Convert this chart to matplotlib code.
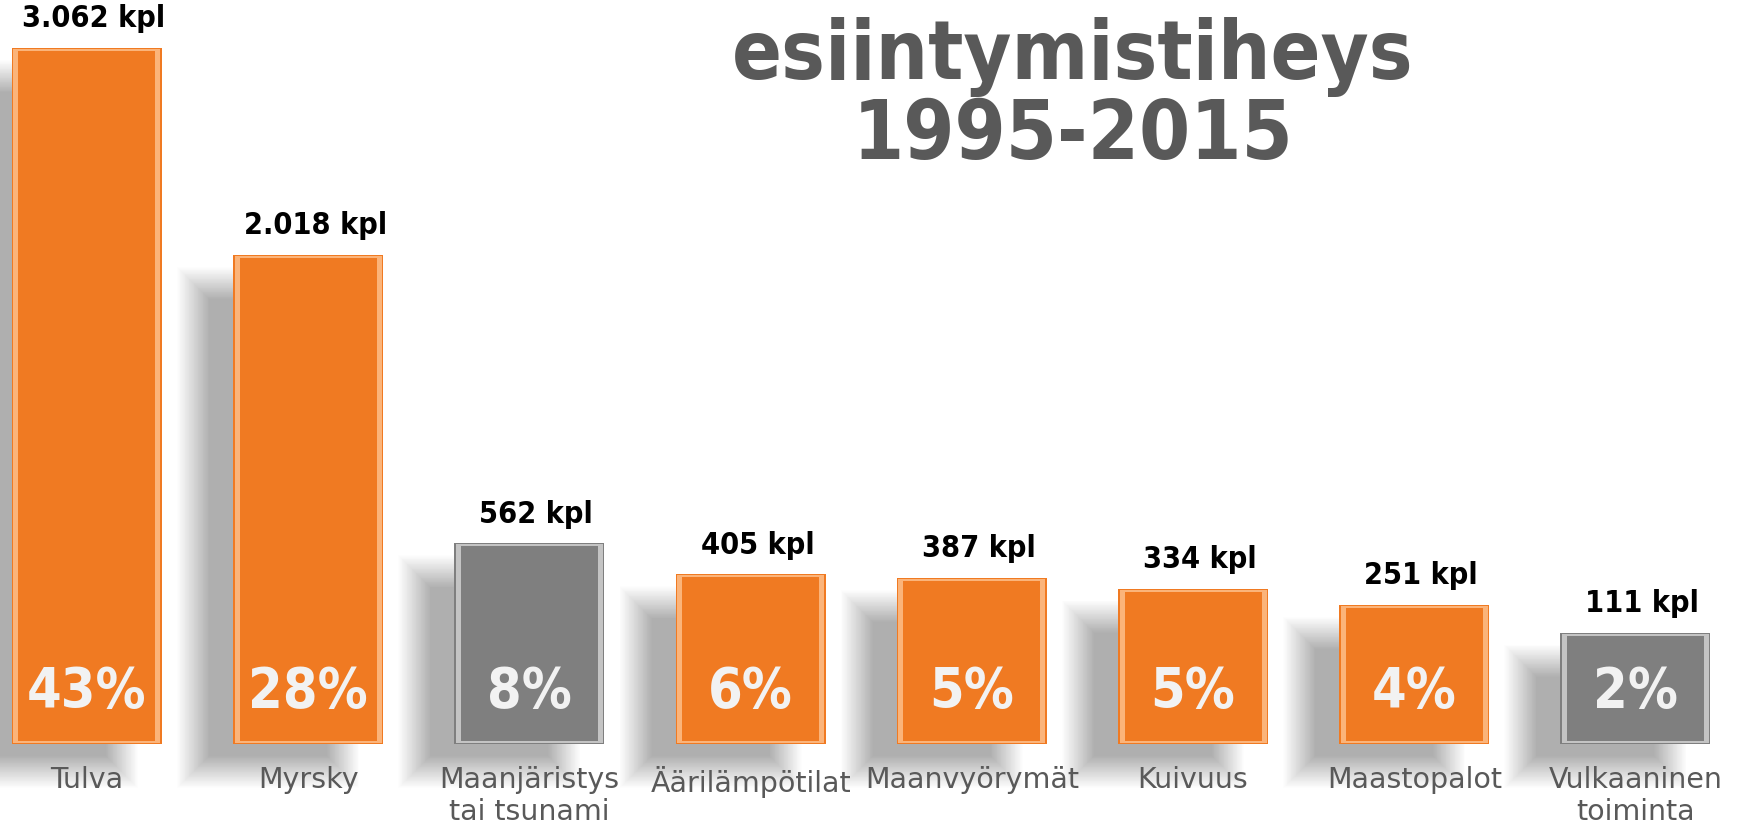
import numpy as np
import matplotlib
matplotlib.use("Agg")
import matplotlib.pyplot as plt
from matplotlib import font_manager

# data
categories = ["Tulva", "Myrsky", "Maanjäristys\ntai tsunami", "Äärilämpötilat",
              "Maanvyörymät", "Kuivuus", "Maastopalot", "Vulkaaninen\ntoiminta"]
counts = [3062, 2018, 562, 405, 387, 334, 251, 111]
count_labels = ["3.062 kpl", "2.018 kpl", "562 kpl", "405 kpl",
                "387 kpl", "334 kpl", "251 kpl", "111 kpl"]
percents = [43, 28, 8, 6, 5, 5, 4, 2]
is_geo = [False, False, True, False, False, False, False, True]

title_line1 = "esiintymistiheys"
title_line2 = "1995-2015"

# layout
W, H = 1739, 823
XLIM = (-0.393, 7.468)
YLIM = (-850, 3306)
BASE = -451  # bars start here
xpx = (XLIM[1] - XLIM[0]) / W
ypx = (YLIM[1] - YLIM[0]) / H
bar_w = 150 * xpx

orange, orange_light = "#F07A22", "#FBB47A"
grey, grey_light = "#7F7F7F", "#C4C4C4"
text_grey = "#595959"

cond = font_manager.FontProperties(family="DejaVu Sans", stretch="condensed", weight="bold")
have_cond = "Condensed" in font_manager.findfont(cond)

fig = plt.figure(figsize=(W / 100, H / 100), dpi=100)
ax = fig.add_axes([0, 0, 1, 1])
ax.set_xlim(*XLIM)
ax.set_ylim(*YLIM)
ax.axis("off")

x = np.arange(len(counts))
heights = np.array(counts) - BASE

# soft drop shadow: many faint boxes, shrinking, shifted left/down
n_layers = 40
blur = 16
alpha = 1 - 0.75 ** (1 / n_layers)
for k in range(n_layers):
    g = blur * (1 - 2 * k / (n_layers - 1))
    ax.bar(x - 40 * xpx, heights + 2 * g * ypx, bottom=BASE - 28 * ypx - g * ypx,
           width=bar_w + 2 * g * xpx, color="black", alpha=alpha, linewidth=0, zorder=1)

main_cols = [grey if g else orange for g in is_geo]
light_cols = [grey_light if g else orange_light for g in is_geo]

# bevelled bars
ax.bar(x, heights, bottom=BASE, width=bar_w, color=main_cols, linewidth=0, zorder=2)
ax.bar(x, heights - 2 * ypx, bottom=BASE + ypx, width=bar_w - 3 * xpx,
       color=light_cols, linewidth=0, zorder=3)
ax.bar(x, heights - 6 * ypx, bottom=BASE + 3 * ypx, width=bar_w - 13 * xpx,
       color=main_cols, linewidth=0, zorder=4)

lbl_font = dict(family="DejaVu Sans", stretch="condensed", weight="bold")
pct_size = 40 if have_cond else 36
kpl_size = 22 if have_cond else 20

for xi, c, cl, p, cat in zip(x, counts, count_labels, percents, categories):
    ax.annotate(cl, (xi, c), xytext=(5, 15), textcoords="offset points",
                ha="center", va="baseline", fontsize=kpl_size, color="black",
                zorder=6, **lbl_font)
    ax.text(xi, -188, f"{p}%", ha="center", va="center", fontsize=pct_size,
            color="#F2F2F2", zorder=6, **lbl_font)
    ax.text(xi, -560, cat, ha="center", va="top", fontsize=20.5, color=text_grey,
            linespacing=1.2, zorder=6)

title_size = 59 if have_cond else 53
fig.text(1073 / W, 1 - 79 / H, title_line1, ha="center", va="baseline",
         fontsize=title_size, color=text_grey, **lbl_font)
fig.text(1073 / W, 1 - 159 / H, title_line2, ha="center", va="baseline",
         fontsize=title_size, color=text_grey, **lbl_font)

fig.savefig("out.png", dpi=100)
